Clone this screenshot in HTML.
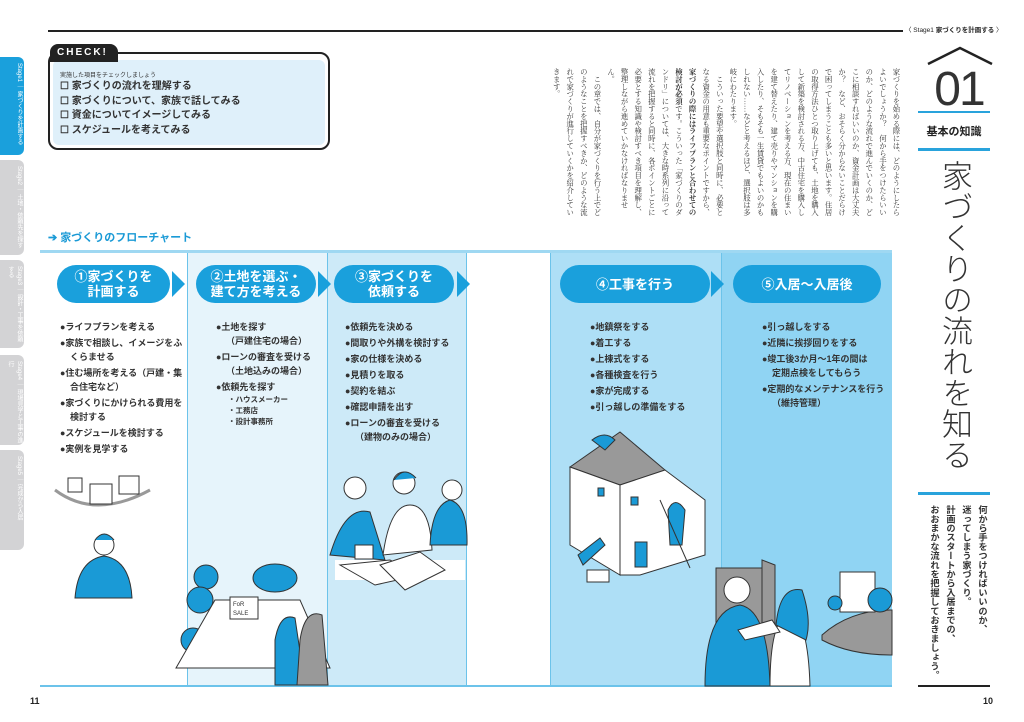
<!DOCTYPE html>
<html><head><meta charset="utf-8"><style>
*{margin:0;padding:0;box-sizing:border-box}
body{width:1024px;height:722px;background:#fff;position:relative;overflow:hidden;font-family:"Liberation Sans","Noto Sans CJK JP",sans-serif;color:#222}
.a{position:absolute}
.tab{position:absolute;left:0;width:24px;border-radius:0 6px 6px 0;background:#d3d3d5;color:#fff;font-size:6px;writing-mode:vertical-rl;padding-top:6px;padding-left:6px}
.pill{position:absolute;top:265px;height:38px;border-radius:19px;background:#1aa0dc;color:#fff;font-weight:bold;font-size:13px;line-height:15px;text-align:center;display:flex;align-items:center;justify-content:center}
.arr{position:absolute;top:271px;width:0;height:0;border-top:13px solid transparent;border-bottom:13px solid transparent;border-left:13px solid #1aa0dc}
.list{position:absolute;top:320px;font-size:9px;font-weight:bold;line-height:14px;color:#333}
.list div{margin-bottom:2px;padding-left:10px;text-indent:-10px}
.list .s{font-size:7.5px;line-height:11px;margin:0;padding-left:12px;text-indent:0}
.col{position:absolute;top:252px;height:434px}
</style></head><body>

<div class="tab" style="top:57px;height:98px;background:#1aa0dc">Stage1 ｜ 家づくりを計画する</div>
<div class="tab" style="top:160px;height:95px">Stage2 ｜ 土地・依頼先を探す</div>
<div class="tab" style="top:260px;height:88px">Stage3 ｜ 設計・工事を依頼する</div>
<div class="tab" style="top:355px;height:90px">Stage4 ｜ 現場見学と工事の進行</div>
<div class="tab" style="top:450px;height:100px">Stage5 ｜ 完成から入居</div>

<div class="a" style="left:48px;top:30px;width:855px;height:2px;background:#222"></div>
<div class="a" style="left:905px;top:24px;font-size:6.5px;white-space:nowrap">〈 Stage1 <b>家づくりを計画する</b> 〉</div>

<div class="a" style="left:48px;top:52px;width:282px;height:98px;border:2px solid #222;border-radius:10px;background:#fff"></div>
<div class="a" style="left:53px;top:60px;width:272px;height:85px;border-radius:6px;background:#dff0fa"></div>
<div class="a" style="left:50px;top:44px;width:68px;height:18px;background:#222;border-radius:8px 8px 0 0;color:#fff;font-weight:bold;font-size:10px;letter-spacing:2px;padding:3px 0 0 7px">CHECK!</div>
<div class="a" style="left:60px;top:70px;font-size:6px;color:#333">実施した項目をチェックしましょう</div>
<div class="a" style="left:60px;top:80px;font-size:10px;font-weight:bold;line-height:14.5px;color:#333">
<div>☐ 家づくりの流れを理解する</div><div>☐ 家づくりについて、家族で話してみる</div><div>☐ 資金についてイメージしてみる</div><div>☐ スケジュールを考えてみる</div></div>

<div class="a" style="right:121px;top:68px;height:150px;writing-mode:vertical-rl;font-family:'Liberation Serif','Noto Serif CJK SC',serif;font-size:7.4px;line-height:13.6px;color:#333">家づくりを始める際には、どのようにしたらよいでしょうか？　何から手をつけたらいいのか、どのような流れで進んでいくのか、どこに相談すればいいのか、資金計画は大丈夫か？　など、おそらく分からないことだらけで困ってしまうことも多いと思います。住居の取得方法ひとつ取り上げても、土地を購入して新築を検討される方、中古住宅を購入してリノベーションを考える方、現在の住まいを建て替えたり、建て売りやマンションを購入したり、そもそも一生賃貸でもよいのかもしれない……などと考えるほど、選択肢は多岐にわたります。<br>　こういった要望や選択肢と同時に、必要となる資金の用意も重要なポイントですから、<b>家づくりの際にはライフプランと合わせての検討が必須</b>です。こういった「家づくりのダンドリ」については、大きな時系列に沿って流れを把握すると同時に、各ポイントごとに必要とする知識や検討すべき項目を理解し、整理しながら進めていかなければなりません。<br>　この章では、自分が家づくりを行う上でどのようなことを把握すべきか、どのような流れで家づくりが進行していくかを紹介していきます。</div>

<svg class="a" style="left:925px;top:44px" width="70" height="22"><polyline points="3,20 35,4 67,20" fill="none" stroke="#222" stroke-width="2.5"/></svg>
<div class="a" style="left:922px;top:62px;width:74px;text-align:center;font-size:48px;font-weight:300;color:#333;letter-spacing:-2px">01</div>
<div class="a" style="left:918px;top:111px;width:72px;height:1.5px;background:#29a3dc"></div>
<div class="a" style="left:918px;top:123px;width:72px;text-align:center;font-size:11px;font-weight:bold">基本の知識</div>
<div class="a" style="left:918px;top:148px;width:72px;height:3px;background:#29a3dc"></div>
<div class="a" style="left:936px;top:160px;writing-mode:vertical-rl;font-size:31px;line-height:36px;color:#333;font-weight:300">家づくりの流れを知る</div>
<div class="a" style="left:918px;top:492px;width:72px;height:3px;background:#29a3dc"></div>
<div class="a" style="left:926px;top:505px;height:182px;writing-mode:vertical-rl;font-size:9.2px;font-weight:bold;line-height:16px;color:#333">何から手をつければいいのか、<br>迷ってしまう家づくり。<br>計画のスタートから入居までの、<br>おおまかな流れを把握しておきましょう。</div>
<div class="a" style="left:918px;top:685px;width:72px;height:2px;background:#222"></div>
<div class="a" style="left:983px;top:696px;font-size:9px;font-weight:bold">10</div>
<div class="a" style="left:30px;top:696px;font-size:9px;font-weight:bold">11</div>

<div class="a" style="left:48px;top:229px;font-size:11px;font-weight:bold;color:#1a9ad6">➔ 家づくりのフローチャート</div>

<div class="col" style="left:40px;width:147px;background:#fff"></div>
<div class="col" style="left:187px;width:140px;background:#e6f4fb;border-left:1px solid #6cc3ea"></div>
<div class="col" style="left:327px;width:140px;background:#cdeaf8;border-left:1px solid #6cc3ea;border-right:1px solid #6cc3ea"></div>
<div class="col" style="left:550px;width:171px;background:#aedff6;border-left:1px solid #6cc3ea"></div>
<div class="col" style="left:721px;width:171px;background:#90d4f3;border-left:1px solid #6cc3ea"></div>
<div class="a" style="left:40px;top:250px;width:852px;height:3px;background:#9fd8f2"></div>
<div class="a" style="left:40px;top:685px;width:852px;height:1.5px;background:#6cc3ea"></div>

<div class="pill" style="left:57px;width:113px">①家づくりを<br>計画する</div>
<div class="arr" style="left:172px"></div>
<div class="pill" style="left:196px;width:120px">②土地を選ぶ・<br>建て方を考える</div>
<div class="arr" style="left:318px"></div>
<div class="pill" style="left:334px;width:120px">③家づくりを<br>依頼する</div>
<div class="arr" style="left:457px"></div>
<div class="pill" style="left:560px;width:150px">④工事を行う</div>
<div class="arr" style="left:711px"></div>
<div class="pill" style="left:733px;width:148px">⑤入居～入居後</div>

<div class="list" style="left:60px;width:125px">
<div>●ライフプランを考える</div><div>●家族で相談し、イメージをふくらませる</div><div>●住む場所を考える（戸建・集合住宅など）</div><div>●家づくりにかけられる費用を検討する</div><div>●スケジュールを検討する</div><div>●実例を見学する</div></div>
<div class="list" style="left:216px;width:110px">
<div>●土地を探す<br>（戸建住宅の場合）</div><div>●ローンの審査を受ける<br>（土地込みの場合）</div><div style="margin:0">●依頼先を探す</div><div class="s">・ハウスメーカー</div><div class="s">・工務店</div><div class="s">・設計事務所</div></div>
<div class="list" style="left:345px;width:122px">
<div>●依頼先を決める</div><div>●間取りや外構を検討する</div><div>●家の仕様を決める</div><div>●見積りを取る</div><div>●契約を結ぶ</div><div>●確認申請を出す</div><div>●ローンの審査を受ける<br>（建物のみの場合）</div></div>
<div class="list" style="left:590px;width:125px">
<div>●地鎮祭をする</div><div>●着工する</div><div>●上棟式をする</div><div>●各種検査を行う</div><div>●家が完成する</div><div>●引っ越しの準備をする</div></div>
<div class="list" style="left:762px;width:128px">
<div>●引っ越しをする</div><div>●近隣に挨拶回りをする</div><div>●竣工後3か月～1年の間は<br>定期点検をしてもらう</div><div>●定期的なメンテナンスを行う<br>（維持管理）</div></div>

<svg class="a" style="left:0;top:0" width="1024" height="722">
<g stroke="#333" stroke-width="1">
<path d="M55,490 Q95,520 150,490" fill="none" stroke="#999" stroke-width="3"/>
<rect x="68" y="478" width="14" height="14" fill="#fff"/><rect x="90" y="484" width="22" height="20" fill="#fff"/><rect x="119" y="476" width="20" height="18" fill="#fff"/>
<circle cx="104" cy="545" r="10" fill="#fff"/><path d="M95,540 Q104,528 114,540" fill="#1a9ad6"/>
<path d="M75,598 Q78,560 104,556 Q130,560 132,598 Z" fill="#1a9ad6"/>
<circle cx="206" cy="577" r="12" fill="#1a9ad6"/><circle cx="200" cy="600" r="13" fill="#1a9ad6"/><circle cx="193" cy="640" r="12" fill="#1a9ad6"/>
<ellipse cx="275" cy="578" rx="22" ry="14" fill="#1a9ad6"/>
<polygon points="215,600 300,600 330,668 176,668" fill="#fff"/>
<rect x="230" y="597" width="28" height="22" fill="#fff"/><text x="233" y="606" font-size="6" stroke="none" fill="#333">FoR</text><text x="233" y="615" font-size="6" stroke="none" fill="#333">SALE</text>
<path d="M275,640 Q280,612 295,618 L305,685 L275,685 Z" fill="#1a9ad6"/>
<path d="M300,640 Q305,608 322,615 L328,685 L297,685 Z" fill="#999"/>
<rect x="335" y="560" width="130" height="20" fill="#fff" stroke="none"/>
<path d="M330,555 Q345,505 370,512 L385,560 Z" fill="#1a9ad6"/><circle cx="355" cy="488" r="11" fill="#fff"/>
<path d="M383,555 Q390,505 410,505 Q430,505 432,550 Z" fill="#fff"/><circle cx="404" cy="483" r="11" fill="#fff"/><path d="M394,480 Q404,465 416,478" fill="#1a9ad6"/>
<path d="M430,545 Q432,505 450,500 Q468,505 467,545 Z" fill="#1a9ad6"/><circle cx="452" cy="490" r="10" fill="#fff"/>
<polygon points="340,565 390,560 420,575 375,585" fill="#fff"/><rect x="355" y="545" width="18" height="14" fill="#fff"/>
<polygon points="380,565 420,552 445,570 405,590" fill="#fff"/>
<polygon points="570,467 620,432 665,470 620,485" fill="#999"/>
<polygon points="570,467 620,485 620,575 570,545" fill="#fff"/>
<polygon points="620,485 665,470 705,500 705,555 640,575 620,575" fill="#fff"/>
<rect x="635" y="542" width="12" height="25" fill="#1a9ad6"/><rect x="598" y="488" width="6" height="8" fill="#1a9ad6"/><rect x="631" y="497" width="7" height="8" fill="#1a9ad6"/>
<polygon points="578,555 600,538 605,545 583,565" fill="#1a9ad6"/>
<path d="M592,440 Q605,430 615,440 L605,450 Z" fill="#1a9ad6"/>
<path d="M668,510 Q675,495 685,510 L682,545 L670,545 Z" fill="#1a9ad6"/>
<line x1="660" y1="500" x2="690" y2="568"/><rect x="587" y="570" width="22" height="12" fill="#fff"/>
<rect x="716" y="568" width="50" height="118" fill="#999"/><polygon points="762,560 775,565 775,686 762,686" fill="#999"/>
<path d="M705,686 Q705,610 740,605 Q768,610 770,686 Z" fill="#1a9ad6"/>
<circle cx="737" cy="590" r="13" fill="#fff"/>
<path d="M770,686 Q770,618 790,612 Q808,620 810,686 Z" fill="#fff"/>
<path d="M776,625 Q780,585 802,590 Q812,620 806,640 Z" fill="#1a9ad6"/>
<polygon points="738,630 772,620 780,632 745,640" fill="#fff"/>
<path d="M822,635 Q850,610 892,610 L892,655 Q850,655 822,640 Z" fill="#999"/>
<rect x="840" y="572" width="35" height="40" fill="#fff"/>
<circle cx="880" cy="600" r="12" fill="#1a9ad6"/><circle cx="835" cy="603" r="7" fill="#1a9ad6"/>
</g>
</svg>
</body></html>
